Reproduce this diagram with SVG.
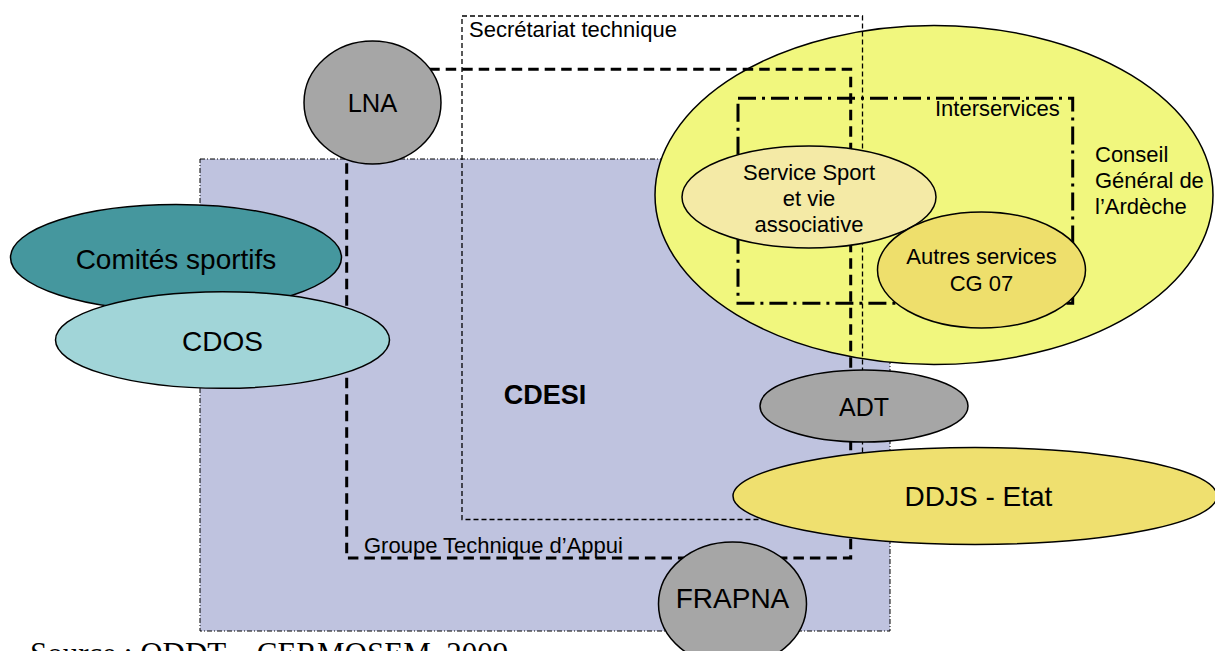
<svg xmlns="http://www.w3.org/2000/svg" width="1215" height="651" viewBox="0 0 1215 651">
<style>
text{font-family:"Liberation Sans",Arial,sans-serif;fill:#000}
.node{stroke:#000;stroke-width:1.5}
.grey{fill:#A6A6A6}
.l22{font-size:22px}
.l28{font-size:28px}
.mid{text-anchor:middle}
.frame{fill:none;stroke:#000}
</style>
<rect x="0" y="0" width="1215" height="651" fill="#fff"/>
<g id="cdesi">
<rect x="200" y="159" width="690" height="472" fill="#BFC3DF" stroke="#000" stroke-width="1" stroke-dasharray="5 2 1 2"/>
</g>
<g id="conseil-general">
<ellipse class="node" cx="934" cy="195" rx="279" ry="169.5" fill="#F1F77E"/>
</g>
<g id="connectors">
<rect id="secretariat" class="frame" x="462" y="16" width="400.5" height="503.5" stroke-width="1.3" stroke-dasharray="5 3"/>
<rect id="gta" class="frame" x="346.7" y="69.3" width="504" height="488.7" stroke-width="3" stroke-dasharray="10.5 6"/>
<rect id="interservices" class="frame" x="738" y="98.3" width="334.7" height="205" stroke-width="3" stroke-dasharray="18 6 3 6"/>
</g>
<g id="service-sport">
<ellipse class="node" cx="809" cy="197" rx="127" ry="51" fill="#F4EAA6"/>
<text class="l22 mid" x="809" y="180">Service Sport</text>
<text class="l22 mid" x="809" y="206">et vie</text>
<text class="l22 mid" x="809" y="232">associative</text>
</g>
<g id="autres-services">
<ellipse class="node" cx="981.5" cy="270" rx="104" ry="58" fill="#EEDF6C"/>
<text class="l22 mid" x="981.5" y="264">Autres services</text>
<text class="l22 mid" x="981.5" y="291">CG 07</text>
</g>
<g id="lna">
<ellipse class="node grey" cx="372.5" cy="102.5" rx="68.5" ry="61.5"/>
<text class="mid" x="372.5" y="111.5" font-size="25.5">LNA</text>
</g>
<g id="comites">
<ellipse class="node" cx="176" cy="257.5" rx="165.5" ry="53" fill="#45979E"/>
<text class="l28 mid" x="176" y="269">Comités sportifs</text>
</g>
<g id="cdos">
<ellipse class="node" cx="222.5" cy="340" rx="167" ry="48.3" fill="#A1D5D8"/>
<text class="l28 mid" x="222.5" y="351">CDOS</text>
</g>
<g id="adt">
<ellipse class="node grey" cx="864" cy="406" rx="104" ry="36"/>
<text class="mid" x="864" y="415.5" font-size="25">ADT</text>
</g>
<g id="ddjs">
<ellipse class="node" cx="975" cy="496" rx="242" ry="48.5" fill="#EFE06F"/>
<text class="l28 mid" x="978.5" y="505.5">DDJS - Etat</text>
</g>
<g id="frapna">
<ellipse class="node grey" cx="732.5" cy="604" rx="74" ry="62"/>
<text class="l28 mid" x="732.5" y="608">FRAPNA</text>
</g>
<g id="labels">
<text class="l22" x="469" y="36.5">Secrétariat technique</text>
<text class="l22" x="364" y="553">Groupe Technique d’Appui</text>
<text class="l22" x="935" y="115.5">Interservices</text>
<text class="l22" x="1095" y="162">Conseil</text>
<text class="l22" x="1095" y="188">Général de</text>
<text class="l22" x="1095" y="214">l’Ardèche</text>
<text x="545" y="404" font-size="27" font-weight="bold" text-anchor="middle">CDESI</text>
<text x="30" y="664" font-size="31" style="font-family:'Liberation Serif','Times New Roman',serif">Source : ODDT – CERMOSEM, 2009</text>
</g>
</svg>
